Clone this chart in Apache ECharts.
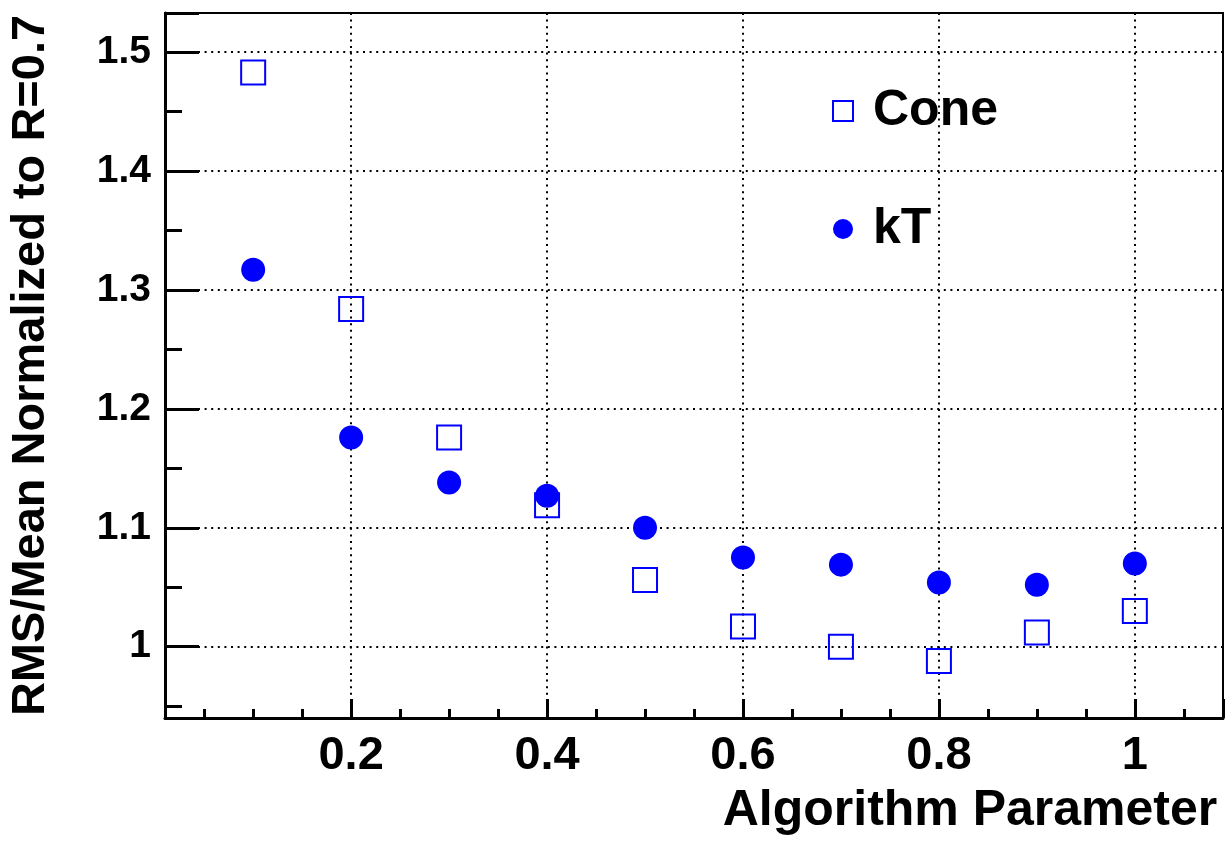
<!DOCTYPE html>
<html>
<head>
<meta charset="utf-8">
<script src="https://cdn.jsdelivr.net/npm/echarts@6/dist/echarts.min.js"></script>
<style>
html,body{margin:0;padding:0;background:#fff;}
#chart{width:1225px;height:842px;}
</style>
</head>
<body>
<div id="chart"></div>
<script>
// Data
const params = [0.1, 0.2, 0.3, 0.4, 0.5, 0.6, 0.7, 0.8, 0.9, 1.0];
const coneValues = [1.483, 1.284, 1.176, 1.119, 1.056, 1.017, 1.000, 0.988, 1.012, 1.030];
const ktValues = [1.317, 1.176, 1.138, 1.127, 1.100, 1.075, 1.069, 1.054, 1.052, 1.070];
const seriesNames = ['Cone', 'kT'];
const xTitle = 'Algorithm Parameter';
const yTitle = 'RMS/Mean Normalized to R=0.7';

const FONT = '"Liberation Sans", Arial, Helvetica, sans-serif';
const BLUE = '#0000ff';

function pairs(xs, ys) { return xs.map((x, i) => [x, ys[i]]); }

const chart = echarts.init(document.getElementById('chart'), null, {renderer: 'canvas'});
chart.setOption({
  animation: false,
  backgroundColor: '#ffffff',
  grid: {
    left: 165, top: 13, right: 2, bottom: 124,
    containLabel: false,
    outerBoundsMode: 'none',
    show: true, borderColor: '#000', borderWidth: 2, backgroundColor: 'transparent'
  },
  legend: {
    orient: 'vertical',
    left: 827, top: 81,
    itemWidth: 20, itemHeight: 20, itemGap: 68,
    selectedMode: false,
    data: seriesNames,
    textStyle: {fontFamily: FONT, fontSize: 50, fontWeight: 'bold', color: '#000', padding: [0, 0, 0, 15]}
  },
  xAxis: {
    type: 'value',
    min: 0.01, max: 1.09,
    minInterval: 0.2, maxInterval: 0.2,
    name: xTitle,
    nameLocation: 'middle',
    nameGap: 68,
    nameTextStyle: {fontFamily: FONT, fontSize: 50, fontWeight: 'bold', color: '#000',
      padding: [0, 0, 0, 552]},
    axisLine: {show: true, onZero: false, lineStyle: {color: '#000', width: 3}},
    axisTick: {show: true, inside: true, length: 19, lineStyle: {color: '#000', width: 3}},
    minorTick: {show: true, splitNumber: 4, length: 9, lineStyle: {color: '#000', width: 3}},
    axisLabel: {showMinLabel: false, showMaxLabel: false, margin: 15,
      fontFamily: FONT, fontSize: 47, fontWeight: 'bold', color: '#000'},
    splitLine: {show: true, lineStyle: {color: '#000', width: 2, type: [2, 4.6]}}
  },
  yAxis: {
    type: 'value',
    min: 0.94, max: 1.533,
    minInterval: 0.1, maxInterval: 0.1,
    name: yTitle,
    nameLocation: 'middle',
    nameRotate: 90,
    nameGap: 110,
    nameTextStyle: {fontFamily: FONT, fontSize: 47, fontWeight: 'bold', color: '#000'},
    axisLine: {show: true, onZero: false, lineStyle: {color: '#000', width: 3}},
    axisTick: {show: true, inside: true, length: 34, lineStyle: {color: '#000', width: 3}},
    minorTick: {show: true, splitNumber: 2, length: 17, lineStyle: {color: '#000', width: 3}},
    axisLabel: {showMinLabel: false, showMaxLabel: false, margin: 14,
      fontFamily: FONT, fontSize: 39, fontWeight: 'bold', color: '#000'},
    splitLine: {show: true, lineStyle: {color: '#000', width: 2, type: [2, 4.6]}}
  },
  series: [
    {
      name: seriesNames[0],
      type: 'scatter',
      symbol: 'rect',
      symbolSize: 24,
      itemStyle: {color: 'rgba(255,255,255,0)', borderColor: BLUE, borderWidth: 2, opacity: 1},
      data: pairs(params, coneValues),
      z: 3
    },
    {
      name: seriesNames[1],
      type: 'scatter',
      symbol: 'circle',
      symbolSize: 24,
      itemStyle: {color: BLUE, opacity: 1},
      data: pairs(params, ktValues),
      z: 4
    }
  ]
});
</script>
</body>
</html>
